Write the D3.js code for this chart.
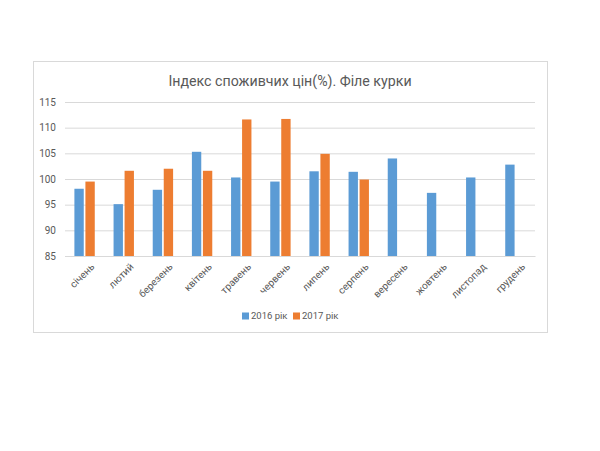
<!DOCTYPE html>
<html>
<head>
<meta charset="utf-8">
<script src="https://cdn.jsdelivr.net/npm/d3@7"></script>
<style>
    body { margin: 0; background: #fff; }
    text { font-family: Roboto, "Open Sans", sans-serif; }
</style>
</head>
<body>
<div id="view"></div>
<script>
const months = ["січень", "лютий", "березень", "квітень", "травень", "червень",
    "липень", "серпень", "вересень", "жовтень", "листопад", "грудень"];
const seriesNames = ["2016 рік", "2017 рік"];
const values2016 = [98.1, 95.1, 97.9, 105.3, 100.3, 99.5, 101.5, 101.4, 104.0, 97.3, 100.3, 102.8];
const values2017 = [99.5, 101.6, 102.0, 101.6, 111.6, 111.7, 104.9, 99.9, null, null, null, null];
const yTicks = [85, 90, 95, 100, 105, 110, 115];
const colors = ["#5B9BD5", "#ED7D31"];

const width = 600;
const height = 451;
const margin = {top: 102, left: 65, right: 65, bottom: 195};
const FONT = "Roboto, 'Open Sans', sans-serif";

const svg = d3.select("#view")
    .append("svg")
        .attr("width", width)
        .attr("height", height);

// chart frame
svg.append("rect")
    .attr("x", 33.5).attr("y", 61.5)
    .attr("width", 514).attr("height", 271)
    .attr("fill", "#fff")
    .attr("stroke", "#D9D9D9");

svg.append("text")
    .attr("x", 290).attr("y", 86)
    .attr("text-anchor", "middle")
    .attr("font-size", 14.2)
    .attr("fill", "#595959")
    .text("Індекс споживчих цін(%). Філе курки");

const x0 = d3.scaleBand()
    .domain(months)
    .range([margin.left, width - margin.right])
    .paddingInner(0.48)
    .paddingOuter(0.24);

const x1 = d3.scaleBand()
    .domain(seriesNames)
    .range([0, x0.bandwidth()])
    .paddingInner(0.15);

const y = d3.scaleLinear()
    .domain([85, 115])
    .range([height - margin.bottom, margin.top]);

// grid
svg.append("g")
    .attr("class", "grid")
    .attr("transform", `translate(${margin.left},0)`)
    .call(d3.axisLeft(y).tickValues(yTicks).tickSize(-(width - margin.left - margin.right)).tickFormat(''))
    .call(g => g.select(".domain").remove())
    .call(g => g.selectAll("line").attr("stroke", "#D9D9D9"));

// y labels
svg.append("g")
    .attr("transform", `translate(${margin.left},0)`)
    .call(d3.axisLeft(y).tickValues(yTicks).tickSize(0).tickPadding(9))
    .call(g => g.select(".domain").remove())
    .call(g => g.selectAll("text").attr("font-size", 10).attr("fill", "#595959")
        .style("font-family", FONT));

const data = months.map((m, i) => ({month: m, vals: [values2016[i], values2017[i]]}));

const groups = svg.append("g")
    .selectAll("g")
    .data(data)
    .join("g")
        .attr("transform", d => `translate(${x0(d.month)},0)`);

groups.selectAll("rect")
    .data(d => d.vals.map((v, j) => ({name: seriesNames[j], value: v, idx: j})).filter(e => e.value != null))
    .join("rect")
        .attr("x", d => x1(d.name))
        .attr("width", x1.bandwidth())
        .attr("y", d => y(d.value))
        .attr("height", d => y(85) - y(d.value))
        .attr("fill", d => colors[d.idx]);

// x axis
svg.append("g")
    .attr("transform", `translate(0,${y(85)})`)
    .call(d3.axisBottom(x0).tickSize(0).tickPadding(0))
    .call(g => g.select(".domain").attr("stroke", "#D9D9D9"))
    .call(g => g.selectAll("text")
        .attr("font-size", 10)
        .attr("fill", "#595959")
        .style("font-family", FONT)
        .attr("text-anchor", "end")
        .attr("dy", "0.35em")
        .attr("transform", "translate(8,9) rotate(-45)"));

// legend
const legend = svg.append("g")
    .attr("transform", "translate(242,316)");
const legendX = [0, 51];
seriesNames.forEach((s, i) => {
    legend.append("rect")
        .attr("x", legendX[i]).attr("y", -3.5)
        .attr("width", 7).attr("height", 7)
        .attr("fill", colors[i]);
    legend.append("text")
        .attr("x", legendX[i] + 9).attr("y", 0)
        .attr("dy", "0.35em")
        .attr("font-size", 9.5)
        .attr("fill", "#595959")
        .text(s);
});
</script>
</body>
</html>
